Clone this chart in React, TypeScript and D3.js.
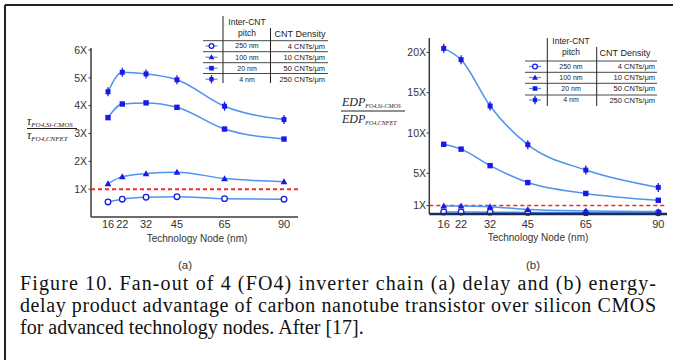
import React from "react";
import * as d3 from "d3";

const nodes = [16, 22, 32, 45, 65, 90];
const pitches = ["250 nm", "100 nm", "20 nm", "4 nm"];
const densities = ["4 CNTs/μm", "10 CNTs/μm", "50 CNTs/μm", "250 CNTs/μm"];
const markerKinds = ["circle", "triangle", "square", "cross"];

// (a) delay advantage
const delay250 = [0.54, 0.64, 0.71, 0.73, 0.66, 0.64];
const delay100 = [1.2, 1.45, 1.56, 1.61, 1.38, 1.27];
const delay20 = [3.57, 4.06, 4.1, 3.94, 3.16, 2.8];
const delay4 = [4.5, 5.2, 5.14, 4.93, 3.98, 3.5];

// (b) EDP advantage
const edp250 = [0.2, 0.2, 0.18, 0.15, 0.12, 0.1];
const edp100 = [0.95, 0.95, 0.86, 0.5, 0.33, 0.25];
const edp20 = [8.6, 8.0, 5.95, 3.85, 2.5, 1.65];
const edp4 = [20.5, 19.1, 13.35, 8.55, 5.4, 3.25];

const ticksA = [1, 2, 3, 4, 5, 6];
const ticksB = [1, 5, 10, 15, 20];

const LINE = "#4f93ef";
const MARK = "#1a1ae6";
const RED = "#f02828";
const AXIS = "#3a3a3a";
const SANS = "Liberation Sans, Arial, sans-serif";
const SERIF = "Liberation Serif, Times New Roman, serif";

function Marker({ kind, x, y, s = 1 }: { kind: string; x: number; y: number; s?: number }) {
  if (kind === "circle")
    return <circle cx={x} cy={y} r={2.8 * s} fill="#fff" stroke={MARK} strokeWidth={1.3} />;
  if (kind === "triangle") {
    const r = 3.4 * s;
    return (
      <path
        d={`M${x},${y - r}L${x + r},${y + r * 0.75}L${x - r},${y + r * 0.75}Z`}
        fill={MARK}
      />
    );
  }
  if (kind === "square") {
    const r = 2.7 * s;
    return <rect x={x - r} y={y - r} width={2 * r} height={2 * r} fill={MARK} />;
  }
  const r = 2.5 * s;
  return (
    <g>
      <rect x={x - r} y={y - r} width={2 * r} height={2 * r} fill={MARK} />
      <line x1={x} x2={x} y1={y - r - 2} y2={y + r + 2} stroke={MARK} strokeWidth={1.3} />
    </g>
  );
}

function Series({
  xs,
  ys,
  vals,
  kind,
}: {
  xs: d3.ScaleLinear<number, number>;
  ys: d3.ScaleLinear<number, number>;
  vals: number[];
  kind: string;
}) {
  const line = d3
    .line<number>()
    .x((_, i) => xs(nodes[i]))
    .y((v) => ys(v))
    .curve(d3.curveMonotoneX);
  return (
    <g>
      <path d={line(vals) || ""} fill="none" stroke={LINE} strokeWidth={1.5} />
      {vals.map((v, i) => (
        <Marker key={i} kind={kind} x={xs(nodes[i])} y={ys(v)} />
      ))}
    </g>
  );
}

function Legend({
  left,
  right,
  v1,
  v2,
  vTop,
  vTop2,
  vBottom,
  hLines,
  rows,
  headX,
  headY1,
  headY2,
  densX,
  densHeadX,
  iconX,
}: any) {
  return (
    <g fontFamily={SANS} fill="#222">
      <line x1={v1} x2={v1} y1={vTop} y2={vBottom} stroke="#222" strokeWidth={1} />
      <line x1={v2} x2={v2} y1={vTop2} y2={vBottom} stroke="#222" strokeWidth={1} />
      {hLines.map((y: number, i: number) => (
        <line key={i} x1={left} x2={right} y1={y} y2={y} stroke="#333" strokeWidth={0.9} />
      ))}
      <text x={headX} y={headY1} fontSize={8.5} textAnchor="middle" dy="0.35em">
        Inter-CNT
      </text>
      <text x={headX} y={headY2} fontSize={8.5} textAnchor="middle" dy="0.35em">
        pitch
      </text>
      <text x={densHeadX} y={headY2 + 1} fontSize={9} textAnchor="middle" dy="0.35em">
        CNT Density
      </text>
      {rows.map((y: number, i: number) => (
        <g key={i}>
          <line x1={iconX - 6} x2={iconX + 6} y1={y} y2={y} stroke={LINE} strokeWidth={1.2} />
          <Marker kind={markerKinds[i]} x={iconX} y={y} s={0.85} />
          <text x={headX} y={y} fontSize={7} textAnchor="middle" dy="0.35em">
            {pitches[i]}
          </text>
          <text x={densX} y={y} fontSize={7.5} textAnchor="end" dy="0.35em">
            {densities[i]}
          </text>
        </g>
      ))}
    </g>
  );
}

export default function App() {
  const xA = d3.scaleLinear().domain([16, 90]).range([108, 284]);
  const yA = d3.scaleLinear().domain([0, 6]).range([217, 50]);
  const xB = d3.scaleLinear().domain([16, 90]).range([443.7, 658.3]);
  const yB = d3.scaleLinear().domain([0, 20]).range([213.6, 52.4]);

  const seriesA = [delay250, delay100, delay20, delay4];
  const seriesB = [edp250, edp100, edp20, edp4];

  return (
    <svg
      width={673}
      height={360}
      style={{ position: "absolute", left: 0, top: 0, background: "#fff" }}
    >
      {/* frame */}
      <line x1={5} x2={673} y1={5} y2={5} stroke="#222" strokeWidth={2} />
      <line x1={5} x2={5} y1={5} y2={360} stroke="#222" strokeWidth={2} />

      {/* ===== (a) ===== */}
      <g>
        <line x1={91} x2={91} y1={48} y2={217} stroke={AXIS} strokeWidth={1.5} />
        <line x1={91} x2={298} y1={217} y2={217} stroke={AXIS} strokeWidth={1.5} />
        {ticksA.map((t) => (
          <g key={t}>
            <line x1={88.5} x2={91} y1={yA(t)} y2={yA(t)} stroke={AXIS} />
            <text
              x={87}
              y={yA(t)}
              fontSize={10.5}
              fontFamily={SANS}
              fill="#333"
              textAnchor="end"
              dy="0.35em"
            >
              {t}X
            </text>
          </g>
        ))}
        {nodes.map((n) => (
          <text
            key={n}
            x={xA(n)}
            y={224}
            fontSize={11}
            fontFamily={SANS}
            fill="#333"
            textAnchor="middle"
            dy="0.35em"
          >
            {n}
          </text>
        ))}
        <text x={197} y={238} fontSize={10} fontFamily={SANS} fill="#333" textAnchor="middle" dy="0.35em">
          Technology Node (nm)
        </text>
        <text x={185} y={265} fontSize={11.5} fontFamily={SANS} fill="#333" textAnchor="middle" dy="0.35em">
          (a)
        </text>
        <line x1={91} x2={300} y1={yA(1)} y2={yA(1)} stroke={RED} strokeWidth={2} strokeDasharray="4,3" />
        {seriesA.map((vals, i) => (
          <Series key={i} xs={xA} ys={yA} vals={vals} kind={markerKinds[i]} />
        ))}
        {/* y label */}
        <g fontFamily={SERIF} fontStyle="italic" fill="#222">
          <text x={27} y={125} fontSize={12}>
            τ<tspan fontSize={7} dy={1.5}>FO4,Si-CMOS</tspan>
          </text>
          <line x1={27} x2={77} y1={128.5} y2={128.5} stroke="#222" strokeWidth={1} />
          <text x={27} y={139} fontSize={12}>
            τ<tspan fontSize={7} dy={1.5}>FO4,CNFET</tspan>
          </text>
        </g>
        <Legend
          left={203}
          right={328}
          v1={223}
          v2={270.5}
          vTop={16}
          vTop2={28}
          vBottom={83}
          hLines={[40.7, 51.7, 62.7, 73.5]}
          rows={[46, 57.2, 68.2, 79.2]}
          headX={247}
          headY1={22.5}
          headY2={33}
          densX={325}
          densHeadX={300}
          iconX={211.5}
        />
      </g>

      {/* ===== (b) ===== */}
      <g>
        <line x1={429.3} x2={429.3} y1={38} y2={214} stroke={AXIS} strokeWidth={1.5} />
        {ticksB.map((t) => (
          <g key={t}>
            <line x1={426.5} x2={429.3} y1={yB(t)} y2={yB(t)} stroke={AXIS} />
            <text
              x={426}
              y={yB(t)}
              fontSize={10.5}
              fontFamily={SANS}
              fill="#333"
              textAnchor="end"
              dy="0.35em"
            >
              {t}X
            </text>
          </g>
        ))}
        {nodes.map((n) => (
          <text
            key={n}
            x={xB(n)}
            y={224}
            fontSize={11}
            fontFamily={SANS}
            fill="#333"
            textAnchor="middle"
            dy="0.35em"
          >
            {n}
          </text>
        ))}
        <text x={538} y={237} fontSize={10} fontFamily={SANS} fill="#333" textAnchor="middle" dy="0.35em">
          Technology Node (nm)
        </text>
        <text x={533} y={265} fontSize={11.5} fontFamily={SANS} fill="#333" textAnchor="middle" dy="0.35em">
          (b)
        </text>
        <line x1={429.3} x2={666} y1={yB(1)} y2={yB(1)} stroke={RED} strokeWidth={1.5} strokeDasharray="4,3" />
        {seriesB.map((vals, i) => (
          <Series key={i} xs={xB} ys={yB} vals={vals} kind={markerKinds[i]} />
        ))}
        <line x1={429.3} x2={667} y1={214} y2={214} stroke="#1c2a5c" strokeWidth={2.5} />
        {/* y label */}
        <g fontFamily={SERIF} fontStyle="italic" fill="#222">
          <text x={342} y={106} fontSize={12}>
            EDP<tspan fontSize={6} dy={2}>FO4,Si-CMOS</tspan>
          </text>
          <line x1={341} x2={405} y1={111} y2={111} stroke="#222" strokeWidth={1} />
          <text x={342} y={123} fontSize={12}>
            EDP<tspan fontSize={6} dy={2}>FO4,CNFET</tspan>
          </text>
        </g>
        <Legend
          left={525}
          right={657}
          v1={547.3}
          v2={596.7}
          vTop={38}
          vTop2={47}
          vBottom={106}
          hLines={[61, 72.3, 83.3, 95]}
          rows={[66.5, 77.5, 88.5, 100]}
          headX={571}
          headY1={41.5}
          headY2={52.3}
          densX={655}
          densHeadX={625}
          iconX={535}
        />
      </g>

      {/* caption */}
      <g fontFamily={SERIF} fontSize={20} fill="#111">
        <text x={20} y={290} textLength={636} lengthAdjust="spacing">
          Figure 10. Fan-out of 4 (FO4) inverter chain (a) delay and (b) energy-
        </text>
        <text x={20} y={312} textLength={636} lengthAdjust="spacing">
          delay product advantage of carbon nanotube transistor over silicon CMOS
        </text>
        <text x={20} y={334}>
          for advanced technology nodes. After [17].
        </text>
      </g>
    </svg>
  );
}
